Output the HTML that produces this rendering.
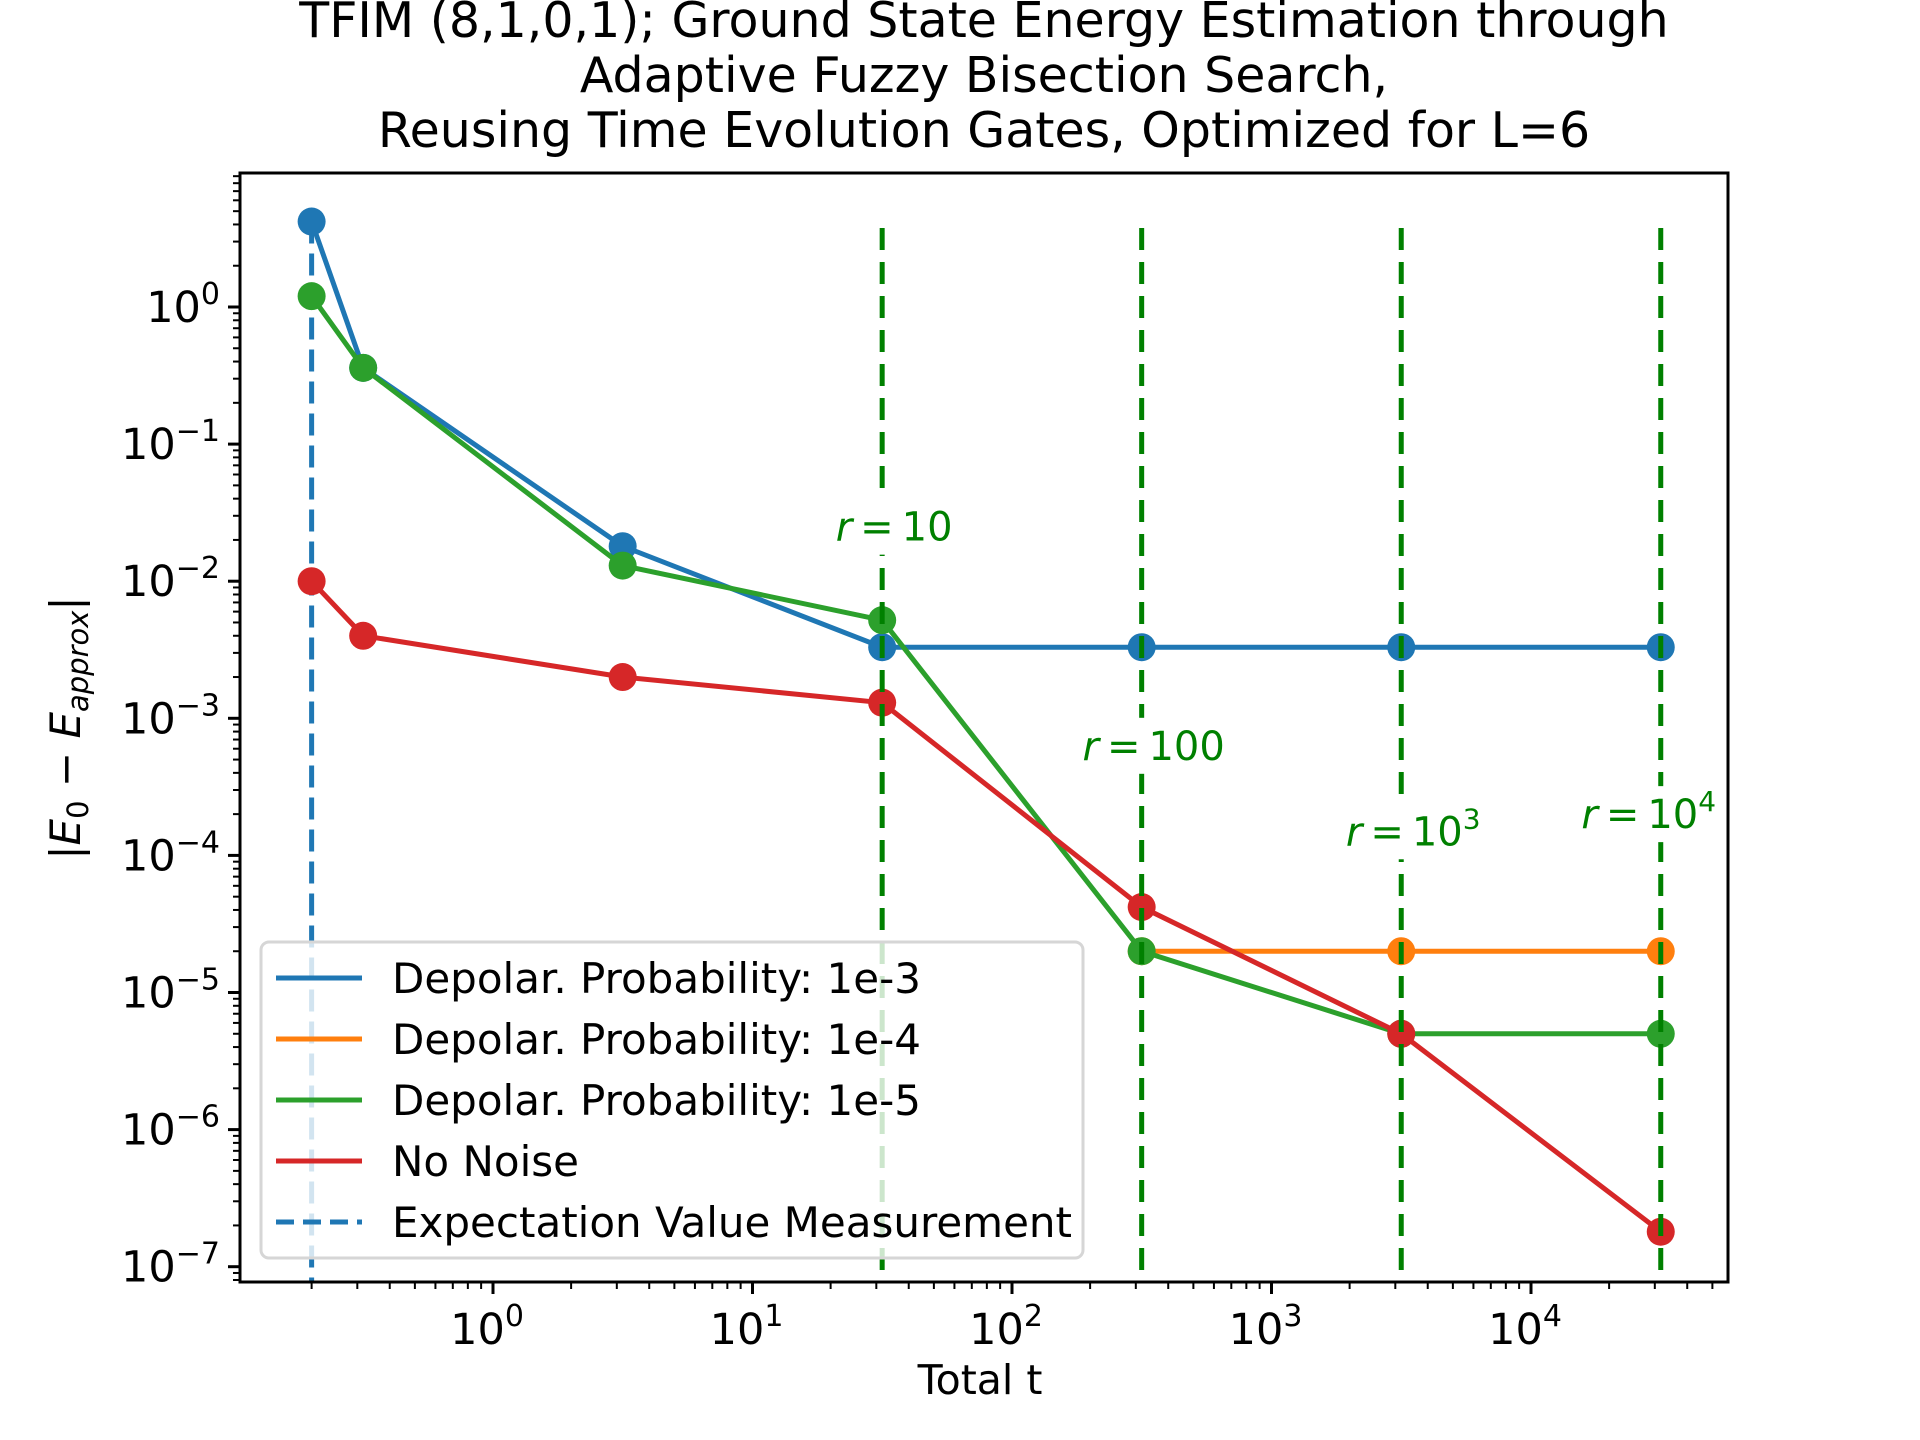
<!DOCTYPE html>
<html><head><meta charset="utf-8"><style>
html,body{margin:0;padding:0;background:#fff;}
svg{display:block;font-family:"DejaVu Sans","Liberation Sans",sans-serif;}
</style></head><body>
<svg id="chart" width="1920" height="1440" viewBox="0 0 1920 1440" xmlns="http://www.w3.org/2000/svg">
<rect width="1920" height="1440" fill="#fff"/>
<g font-size="49" text-anchor="middle" fill="#000">
<text x="984" y="37">TFIM (8,1,0,1); Ground State Energy Estimation through</text>
<text x="984" y="92">Adaptive Fuzzy Bisection Search,</text>
<text x="984" y="147">Reusing Time Evolution Gates, Optimized for L=6</text>
</g>
<g id="plot"></g>
</svg>
<script>
const xTotal = [0.2, 0.316, 3.16, 31.6, 316, 3162, 31623];
const blueVals = [4.2, 0.36, 0.018, 0.0033, 0.0033, 0.0033, 0.0033];
const orangeX = [316, 3162, 31623];
const orangeVals = [2e-5, 2e-5, 2e-5];
const greenVals = [1.2, 0.36, 0.013, 0.0052, 2e-5, 5e-6, 5e-6];
const redVals = [0.01, 0.004, 0.002, 0.0013, 4.2e-5, 5e-6, 1.8e-7];
const rLinesX = [31.6, 316, 3162, 31623];
const rLabels = ["10", "100", "10^3", "10^4"];
const rLabelY = [2.5e-2, 6.3e-4, 1.5e-4, 2e-4];
const xTickExps = [0, 1, 2, 3, 4];
const yTickExps = [0, -1, -2, -3, -4, -5, -6, -7];

const L = 240, R = 1728, T = 173, B = 1282;
const X0 = 493, XD = 259.5, Y0 = 307, YD = 137.1;
function sx(v){ return X0 + Math.log10(v) * XD; }
function sy(v){ return Y0 - Math.log10(v) * YD; }
const NS = "http://www.w3.org/2000/svg";
const plot = document.getElementById('plot');
function mk(tag, attrs, parent){
  const e = document.createElementNS(NS, tag);
  for (const k in attrs) e.setAttribute(k, attrs[k]);
  (parent || plot).appendChild(e);
  return e;
}
const xt = mk('g', {});


for (let e = -1; e <= 4; e++) {
  for (let m = 1; m < 10; m++) {
    const v = m * Math.pow(10, e);
    const x = sx(v);
    if (x < L || x > R) continue;
    mk('line', {x1:x, x2:x, y1:B, y2:B + (m===1?12:7), stroke:'#000', 'stroke-width':m===1?3:2}, xt);
  }
}
xTickExps.forEach(e => {
  const t = mk('text', {x:sx(Math.pow(10,e)) - 6, y:B + 62, 'font-size':43, 'text-anchor':'middle'}, xt);
  
  
  t.innerHTML = '10<tspan dy="-18" font-size="30">' + e + '</tspan>';
});
const yt = mk('g', {});


for (let e = -8; e <= 1; e++) {
  for (let m = 1; m < 10; m++) {
    const v = m * Math.pow(10, e);
    const y = sy(v);
    if (y < T || y > B) continue;
    mk('line', {x1:L, x2:L - (m===1?12:7), y1:y, y2:y, stroke:'#000', 'stroke-width':m===1?3:2}, yt);
  }
}
yTickExps.forEach(e => {
  const t = mk('text', {x:L - 20, y:sy(Math.pow(10,e)) + 15, 'font-size':43, 'text-anchor':'end'}, yt);
  
  
  t.innerHTML = '10<tspan dy="-18" font-size="30">' + (e < 0 ? '\u2212' + (-e) : e) + '</tspan>';
});
const ev = mk('line', {x1:sx(xTotal[0]), x2:sx(xTotal[0]), y1:sy(blueVals[0]), y2:B, stroke:'#1f77b4', 'stroke-width':5, 'stroke-dasharray':'22 10'});


function series(xs, ys, color, name){
  const g = mk('g', {});
  
  
  mk('polyline', {points: xs.map((x,i)=>sx(x)+','+sy(ys[i])).join(' '), fill:'none', stroke:color, 'stroke-width':5, 'stroke-linejoin':'round'}, g);
  xs.forEach((x,i)=>{
    const c = mk('circle', {cx:sx(x), cy:sy(ys[i]), r:14, fill:color}, g);
    
    
  });
}
series(xTotal, blueVals, '#1f77b4', 'series-depolar-1e-3');
series(orangeX, orangeVals, '#ff7f0e', 'series-depolar-1e-4');
series(xTotal, greenVals, '#2ca02c', 'series-depolar-1e-5');
series(xTotal, redVals, '#d62728', 'series-no-noise');
rLinesX.forEach((rx, i) => {
  const ln = mk('line', {x1:sx(rx), x2:sx(rx), y1:228, y2:B, stroke:'#008000', 'stroke-width':5, 'stroke-dasharray':'22 12'});
  
  
});
rLinesX.forEach((rx, i) => {
  const cx = sx(rx) + (i === 3 ? -12 : 12), cy = sy(rLabelY[i]);
  const bg = mk('rect', {x:cx - 62, y:cy - 28, width:124, height:56, fill:'#fff'});
  
  
  const t = mk('text', {x:cx, y:cy + 14, 'font-size':40, 'text-anchor':'middle', fill:'#008000'});
  
  
  const lab = rLabels[i];
  let html = '<tspan font-style="italic">r</tspan>\u2009=\u2009';
  if (lab.indexOf('^') >= 0) { const p = lab.split('^'); html += p[0] + '<tspan dy="-17" font-size="28">' + p[1] + '</tspan>'; }
  else html += lab;
  t.innerHTML = html;
});
const fr = mk('rect', {x:L, y:T, width:R-L, height:B-T, fill:'none', stroke:'#000', 'stroke-width':3});


const lg = mk('g', {});


mk('rect', {x:261, y:942, width:822, height:316, rx:8, fill:'#fff', 'fill-opacity':0.8, stroke:'#d6d6d6', 'stroke-width':3}, lg);
const legNames = ['Depolar. Probability: 1e-3','Depolar. Probability: 1e-4','Depolar. Probability: 1e-5','No Noise','Expectation Value Measurement'];
const legColors = ['#1f77b4','#ff7f0e','#2ca02c','#d62728','#1f77b4'];
legNames.forEach((n, i) => {
  const y = 978 + i * 61;
  const e = mk('g', {}, lg);
  
  
  const a = {x1:276, x2:362, y1:y, y2:y, stroke:legColors[i], 'stroke-width':5};
  if (i === 4) a['stroke-dasharray'] = '18 9';
  mk('line', a, e);
  const t = mk('text', {x:392, y:y + 15, 'font-size':42}, e);
  t.textContent = n;
});
const xl = mk('text', {x:980, y:1394, 'font-size':41, 'text-anchor':'middle'});


xl.textContent = 'Total t';
const yl = mk('text', {x:0, y:0, 'font-size':42, 'text-anchor':'middle', transform:'translate(80,728) rotate(-90)'});


yl.innerHTML = '|<tspan font-style="italic">E</tspan><tspan font-size="29" dy="8">0</tspan><tspan dy="-8"> \u2212 </tspan><tspan font-style="italic">E</tspan><tspan font-size="29" dy="8" font-style="italic">approx</tspan><tspan dy="-8">|</tspan>';
</script>
</body></html>
